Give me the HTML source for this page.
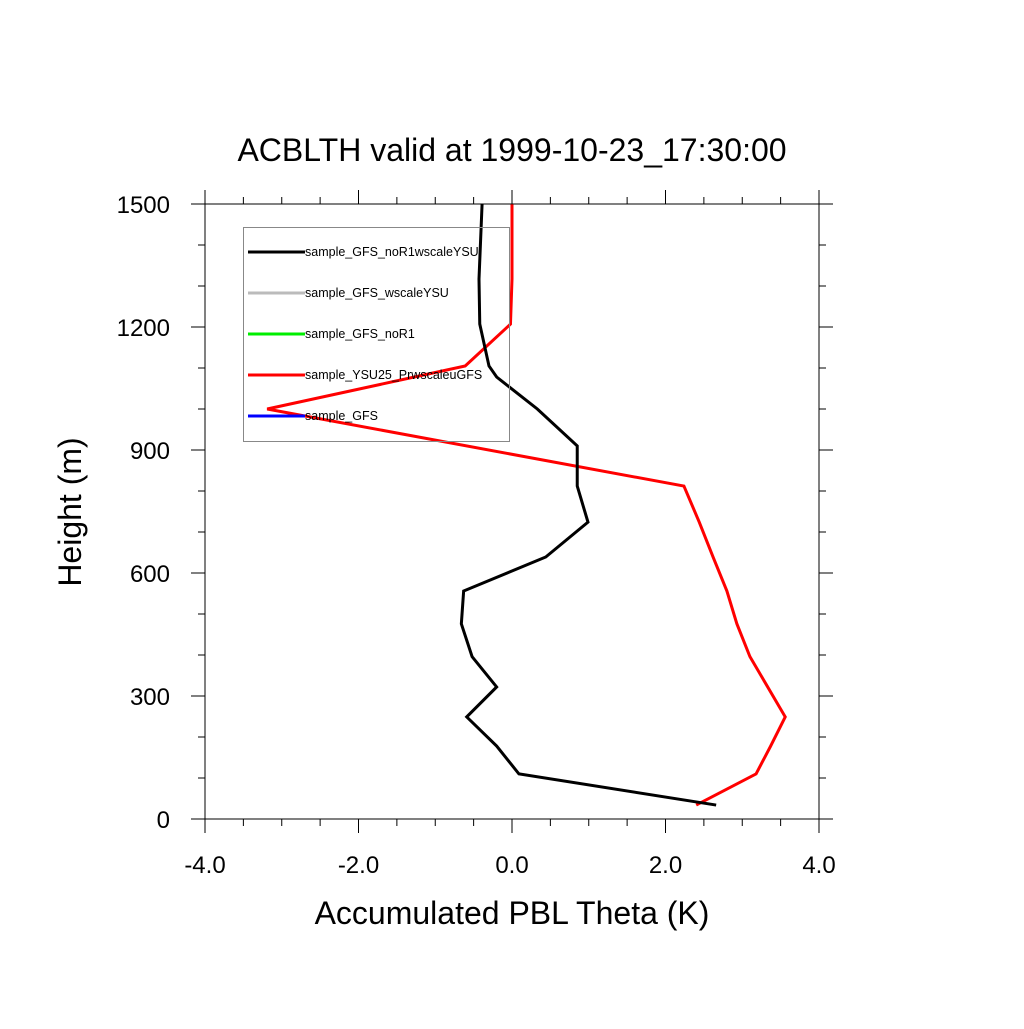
<!DOCTYPE html>
<html><head><meta charset="utf-8"><style>
html,body{margin:0;padding:0;background:#fff;}
svg text{font-family:"Liberation Sans",sans-serif;fill:#000;}
</style></head><body>
<svg id="chart" width="1024" height="1024" viewBox="0 0 1024 1024">
<text x="512" y="161" font-size="32" text-anchor="middle">ACBLTH valid at 1999-10-23_17:30:00</text>
<text x="512" y="924" font-size="32" text-anchor="middle">Accumulated PBL Theta (K)</text>
<text transform="translate(81,512) rotate(-90)" font-size="32" text-anchor="middle">Height (m)</text>
<g id="axes"></g>
<g id="series"></g>
<g id="legend"></g>
</svg>
<script>
const xTicks=[-4,-2,0,2,4];
const xTickLabels=["-4.0","-2.0","0.0","2.0","4.0"];
const yTicks=[0,300,600,900,1200,1500];
const yTickLabels=["0","300","600","900","1200","1500"];
const blackX=[-0.39,-0.43,-0.42,-0.30,-0.20,0.33,0.85,0.85,0.99,0.44,-0.63,-0.66,-0.52,-0.20,-0.59,-0.20,0.09,2.66];
const blackY=[1499,1317,1207,1105,1078,1000,910,812,724,639,556,476,396,322,249,178,110,34];
const redX=[0.0,0.0,-0.02,-0.61,-3.19,2.24,2.44,2.62,2.80,2.93,3.10,3.56,3.37,3.18,2.40];
const redY=[1499,1317,1207,1105,1000,812,724,639,556,476,396,249,178,110,34];
const legendNames=["sample_GFS_noR1wscaleYSU","sample_GFS_wscaleYSU","sample_GFS_noR1","sample_YSU25_PrwscaleuGFS","sample_GFS"];
const legendColors=["#000000","#bbbbbb","#00ee00","#ff0000","#0000ff"];

const L=205,R=819,T=204,B=819;
const sx=v=>L+(v+4)/8*(R-L);
const sy=v=>B-v/1500*(B-T);
const NS="http://www.w3.org/2000/svg";
function mk(tag,attrs,parent){const e=document.createElementNS(NS,tag);for(const k in attrs)e.setAttribute(k,attrs[k]);parent.appendChild(e);return e;}
const axes=document.getElementById('axes');
const fr=mk('rect',{x:L,y:T,width:R-L,height:B-T,fill:'none',stroke:'#000','stroke-width':1},axes);


for(let v=-4;v<=4.001;v+=0.5){
  const major=Math.abs(v/2-Math.round(v/2))<1e-6;const len=major?14:7;const x=sx(v);
  const t1=mk('line',{x1:x,x2:x,y1:B,y2:B+len,stroke:'#000'},axes);
  
  
  const t2=mk('line',{x1:x,x2:x,y1:T,y2:T-len,stroke:'#000'},axes);
  
  
}
for(let v=0;v<=1500;v+=100){
  const major=v%300===0;const len=major?14:7;const y=sy(v);
  const t1=mk('line',{x1:L,x2:L-len,y1:y,y2:y,stroke:'#000'},axes);
  
  
  const t2=mk('line',{x1:R,x2:R+len,y1:y,y2:y,stroke:'#000'},axes);
  
  
}
xTicks.forEach((v,i)=>{const t=mk('text',{x:sx(v),y:873,'font-size':24,'text-anchor':'middle'},axes);t.textContent=xTickLabels[i];
  
  });
yTicks.forEach((v,i)=>{const t=mk('text',{x:170,y:sy(v)+9,'font-size':24,'text-anchor':'end'},axes);t.textContent=yTickLabels[i];
  
  });
const ser=document.getElementById('series');
function line(xs,ys,color,name){const p=mk('polyline',{points:xs.map((x,i)=>sx(x)+','+sy(ys[i])).join(' '),fill:'none',stroke:color,'stroke-width':3,'stroke-linejoin':'miter'},ser);
  
  }
line(redX,redY,'#ff0000','series-ysu25-prwscaleugfs');
line(blackX,blackY,'#000000','series-gfs-nor1wscaleysu');
const lg=document.getElementById('legend');
const box=mk('rect',{x:243.5,y:227.5,width:266,height:214,fill:'none',stroke:'#888','stroke-width':1},lg);


legendNames.forEach((n,i)=>{const y=252+i*41;
  const l=mk('line',{x1:248,x2:305,y1:y,y2:y,stroke:legendColors[i],'stroke-width':3},lg);
  
  
  const t=mk('text',{x:305,y:y+4,'font-size':12.5},lg);t.textContent=n;
  
  });
</script>
</body></html>
